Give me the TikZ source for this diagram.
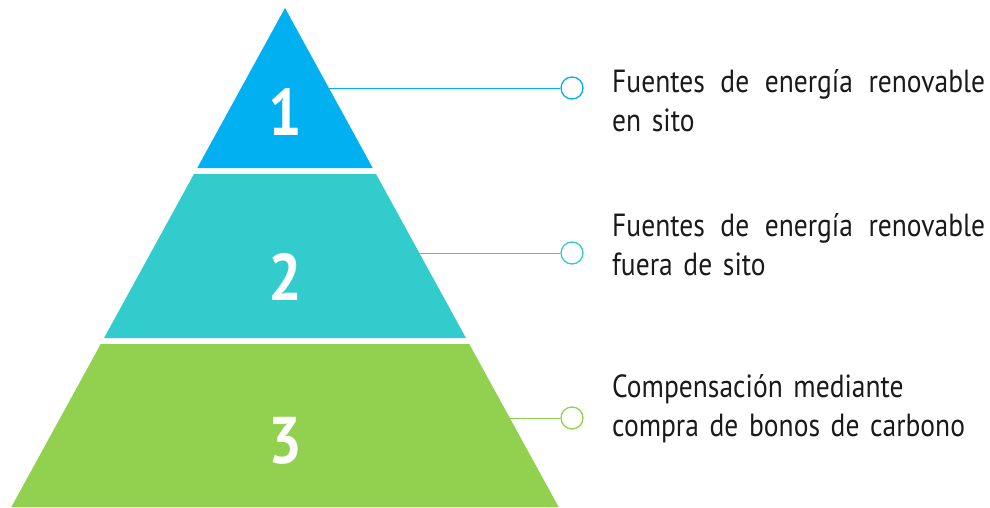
\documentclass[tikz,border=0pt]{standalone}
\usepackage{fontspec}
\setmainfont{PT Sans}[FakeStretch=0.86]
\newfontfamily\digitfont{PT Sans}[FakeStretch=0.9]
\definecolor{tierone}{HTML}{00B0F0}
\definecolor{tiertwo}{HTML}{33CCCC}
\definecolor{tierthree}{HTML}{92D050}
\definecolor{labeltext}{HTML}{1A1A1A}
\tikzset{
  tiernum/.style={text=white,font=\digitfont\bfseries\fontsize{66}{66}\selectfont,inner sep=0pt},
  tierlabel/.style={anchor=base west,inner sep=0pt,text=labeltext,
    font=\fontsize{32}{39}\selectfont,text width=373pt,align=left},
  tierdot/.style={circle,draw,fill=white,line width=1.3pt,minimum size=22pt,inner sep=0pt},
}
\begin{document}
\begin{tikzpicture}[x=1pt,y=-1pt]
\useasboundingbox (0,0) rectangle (990,507);
% pyramid, edges at x = 285 +- 0.5484(y-8)
\fill[tierone] (285,8) -- (372.74,168) -- (197.26,168) -- cycle;
\fill[tiertwo] (193.97,174) -- (376.03,174) -- (465.97,338) -- (104.03,338) -- cycle;
\fill[tierthree] (100.74,344) -- (469.26,344) -- (558.65,507) -- (11.35,507) -- cycle;
\node[tiernum] (n1) at (285,112) {1};
\node[tiernum] (n2) at (285,277) {2};
\node[tiernum] (n3) at (285,441) {3};
% connectors
\coordinate (e1) at (328.9,88);
\coordinate (e2) at (419.4,253);
\coordinate (e3) at (509.8,418);
\node[tierdot,draw=tierone] (d1) at (572,88) {};
\node[tierdot,draw=tiertwo] (d2) at (572,253) {};
\node[tierdot,draw=tierthree] (d3) at (572,418) {};
\draw[tierone,line width=1pt] (e1) -- (d1);
\draw[tiertwo,line width=1pt] (e2) -- (d2);
\draw[tierthree,line width=1pt] (e3) -- (d3);
% labels
\node[tierlabel] (t1) at (612,92) {Fuentes\hfill de\hfill energía\hfill renovable\\en sito};
\node[tierlabel] (t2) at (612,236) {Fuentes\hfill de\hfill energía\hfill renovable\\fuera de sito};
\node[tierlabel] (t3) at (612,397) {Compensación mediante\\compra de bonos de carbono};
\end{tikzpicture}
\end{document}
